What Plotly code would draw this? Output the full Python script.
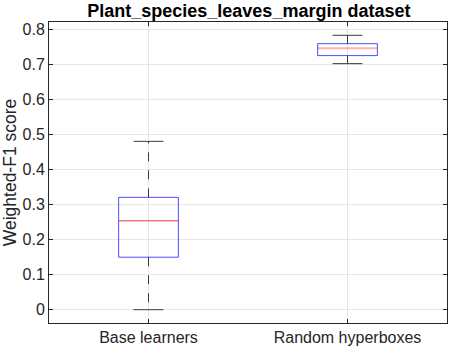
import plotly.graph_objects as go

# Valeurs (boîtes à moustaches)
categories = ["Base learners", "Random hyperboxes"]
positions = [1, 2]
lower_whisker = [0.0, 0.703]
q1 = [0.150, 0.726]
median = [0.254, 0.747]
q3 = [0.321, 0.760]
upper_whisker = [0.481, 0.784]
y_ticks = [0, 0.1, 0.2, 0.3, 0.4, 0.5, 0.6, 0.7, 0.8]

half_box = 0.15
half_cap = 0.075
median_styles = [dict(color="rgba(255,0,0,0.8)", width=1),
                 dict(color="rgba(255,0,0,0.3)", width=2)]

fig = go.Figure()

for i, pos in enumerate(positions):
    # moustaches en pointillés
    fig.add_trace(go.Scatter(
        x=[pos, pos, None, pos, pos],
        y=[q3[i], upper_whisker[i], None, q1[i], lower_whisker[i]],
        mode="lines", line=dict(color="#3a3a3a", width=1, dash="dash"),
        hoverinfo="skip", showlegend=False))
    # extrémités
    fig.add_trace(go.Scatter(
        x=[pos - half_cap, pos + half_cap, None, pos - half_cap, pos + half_cap],
        y=[upper_whisker[i], upper_whisker[i], None, lower_whisker[i], lower_whisker[i]],
        mode="lines", line=dict(color="#3a3a3a", width=1),
        hoverinfo="skip", showlegend=False))
    # boîte
    fig.add_trace(go.Scatter(
        x=[pos - half_box, pos + half_box, pos + half_box, pos - half_box, pos - half_box],
        y=[q1[i], q1[i], q3[i], q3[i], q1[i]],
        mode="lines", line=dict(color="rgba(0,0,255,0.7)", width=1),
        hoverinfo="skip", showlegend=False))
    # médiane
    fig.add_trace(go.Scatter(
        x=[pos - half_box, pos + half_box],
        y=[median[i], median[i]],
        mode="lines", line=median_styles[i],
        hoverinfo="skip", showlegend=False))

axis_style = dict(
    showline=True, linecolor="#262626", linewidth=1, mirror="ticks",
    ticks="inside", ticklen=4, tickcolor="#262626",
    showgrid=True, gridcolor="#e6e6e6", gridwidth=1, zeroline=False,
    tickfont=dict(size=16, color="#262626"), automargin=False,
)

fig.update_xaxes(range=[0.5, 2.5], tickvals=positions, ticktext=categories, **axis_style)
fig.update_yaxes(range=[-0.038, 0.822], tickvals=y_ticks,
                 ticktext=[f"{v:g}" for v in y_ticks],
                 title=dict(text="Weighted-F1 score", font=dict(size=17.5, color="#262626"), standoff=4),
                 **axis_style)

fig.update_layout(
    width=450, height=350,
    margin=dict(l=49, r=3, t=22, b=27),
    paper_bgcolor="white", plot_bgcolor="white",
    font=dict(family="Liberation Sans, Arial, sans-serif"),
    title=dict(text="<b>Plant_species_leaves_margin dataset</b>",
               font=dict(size=18, color="black"),
               x=0.553, xanchor="center", y=0.97, yanchor="middle"),
)

# la page HTML a une marge de 8 px par défaut : on la supprime
fig.write_html("out.html", config={"displayModeBar": False},
               post_script="document.body.style.margin='0';")
